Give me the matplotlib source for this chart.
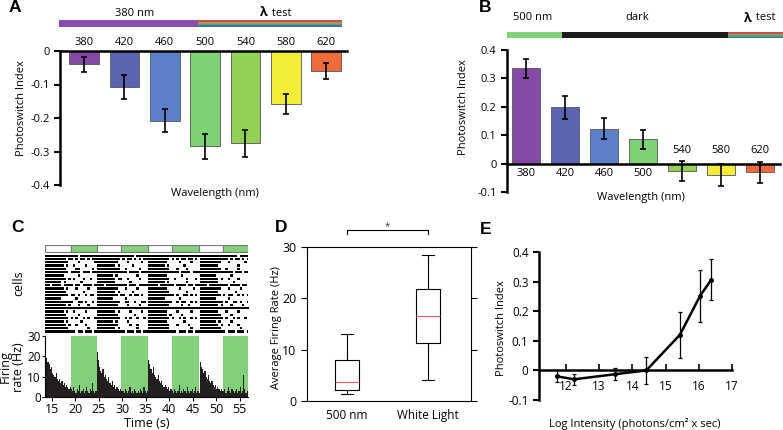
import numpy as np
import matplotlib
matplotlib.use('Agg')
import matplotlib.pyplot as plt
from matplotlib.patches import Rectangle

plt.rcParams['font.family'] = ['Open Sans', 'DejaVu Sans']
plt.rcParams['font.size'] = 8

W, H = 783, 430

# ---- data ----
wavelengths = [380, 420, 460, 500, 540, 580, 620]
bar_colors = ['#8549a6', '#5d63b3', '#5b80c8', '#7fd077', '#93d156', '#f3ed3a', '#ef6b3c']

a_index = [-0.040, -0.107, -0.208, -0.285, -0.275, -0.157, -0.060]
a_err = [0.022, 0.035, 0.035, 0.038, 0.040, 0.030, 0.023]

b_index = [0.335, 0.198, 0.122, 0.085, -0.025, -0.040, -0.030]
b_err = [0.033, 0.040, 0.037, 0.033, 0.035, 0.040, 0.037]

# C: light protocol (s)
green_on = [19.0, 29.8, 40.6, 51.4]
green_off = [24.5, 35.5, 46.3, 56.8]
t_start = 13.5

# raster, 0.5 s per column (dark | green | dark | green ...)
raster_rows = [
    "###########|###.#######|###########|#####.#####|##########|############|##########|######.#####",
    "#########.#|#.#.##.#.##|##########.|#.##.#.#.##|#########.|#.#.##.##.#.|##########|##.#.##.#.##",
    "##########.|...#......#|#########..|..#.....#..|########..|...#....#...|#########.|..#......#..",
    "########.#.|.#....#....|########.#.|....#......|#######.#.|.....#......|########..|......#.....",
    "#########..|..##.....#.|##########.|.#.....#...|#########.|..#...#.....|#########.|.#....#.....",
    "##########.|####.###.##|###########|##.####.###|##########|###.####.###|##########|####.###.###",
    "########...|...#.......|#######.#..|......#....|########..|....#.......|#######...|...#........",
    "#########.#|.#...#..#..|########.##|..#....#...|#########.|.#....#...#.|########.#|..#...#.....",
    "#######.#..|....#......|########...|...#.......|#######.#.|......#.....|########..|....#.......",
    "##.####.###|#.##.####.#|###.#######|##.###.####|####.#####|#.####.##.##|###.######|##.####.##.#",
    "########.#.|..#....#...|#########..|.#....#....|########..|...#.....#..|#########.|..#....#....",
    "#########..|.....#.....|########.#.|....#......|#########.|......#.....|########..|.....#......",
    "##########.|##.#..#.##.|#########.#|#..#.##.#..|##########|#.#..##.#.#.|#########.|#.##..#.#.#.",
    "#######....|..#........|#######....|.#.........|#######...|...#........|#######...|..#.........",
    "###########|#..##.#..#.|##########.|.##..#..##.|##########|..#.##..#.#.|##########|.#..##.#..#.",
    "#########.#|...#...#...|#########..|..#....#...|#########.|....#..#....|########.#|...#....#...",
    "###########|###########|###########|###########|##########|############|##########|############",
    "########.#.|.#....#....|########.#.|...#....#..|########..|..#.....#...|########..|.#....#.....",
    "#########..|...#.......|#########..|.....#.....|########.#|....#.......|#########.|...#........",
    "##########.|#.#..#.#..#|##########.|.#.#..#..#.|#########.|#..#.#..#.#.|##########|.#..#.#..#.#",
    "########.#.|....#......|#######.#..|..#........|########..|.....#......|#######.#.|...#........",
    "#########.#|..#...#....|#########..|...#..#....|#########.|..#....#....|########.#|..#...#.....",
    "##########.|.......#...|########.#.|......#....|#########.|........#...|#########.|.......#....",
    "###########|##.##.###.#|###########|#.###.##.##|##########|##.###.##.##|##########|#.###.###.##",
]

# firing rate, 0.25 s bins from 13.5 s
rate_d1 = [20, 19, 17, 16, 14, 15, 12, 11, 10, 12, 9, 8, 9, 7, 8, 6, 7, 5, 6, 5, 4, 5]
rate_g1 = [4, 3, 5, 3, 2, 4, 3, 6, 2, 3, 4, 2, 3, 5, 3, 2, 4, 3, 7, 3, 2, 3]
rate_d2 = [22, 18, 15, 13, 12, 14, 10, 11, 9, 8, 10, 7, 6, 8, 5, 6, 4, 5, 4, 3, 4, 3]
rate_g2 = [3, 2, 4, 3, 2, 3, 5, 2, 3, 2, 4, 3, 2, 3, 2, 4, 3, 2, 5, 3, 2, 3]
rate_d3 = [18, 16, 14, 12, 15, 11, 10, 9, 11, 8, 7, 8, 6, 5, 6, 5, 4, 5, 3, 4]
rate_g3 = [3, 2, 4, 3, 2, 3, 6, 2, 3, 2, 4, 3, 2, 5, 3, 2, 3, 4, 2, 3, 5, 2, 3, 2]
rate_d4 = [17, 15, 14, 12, 13, 10, 9, 11, 8, 7, 8, 6, 5, 6, 4, 5, 4, 3, 4, 3]
rate_g4 = [3, 4, 2, 3, 5, 3, 2, 4, 3, 2, 3, 4, 2, 3, 5, 2, 3, 11, 4, 2, 3, 2]

# D: box plot stats (Hz)
d_labels = ['500 nm', 'White Light']
d_whislo = [1.3, 4.0]
d_q1 = [2.1, 11.3]
d_med = [3.7, 16.5]
d_q3 = [7.9, 21.8]
d_whishi = [13.0, 28.5]

# E: photoswitch index vs log intensity
e_logI = [11.72, 12.25, 13.47, 14.42, 15.43, 16.04, 16.38]
e_index = [-0.020, -0.030, -0.013, 0.000, 0.120, 0.252, 0.307]
e_err = [0.020, 0.018, 0.020, 0.045, 0.078, 0.088, 0.068]


def px(x0, y0, x1, y1):
    return [x0 / W, 1 - y1 / H, (x1 - x0) / W, (y1 - y0) / H]


fig = plt.figure(figsize=(W / 100, H / 100), dpi=100)

# overlay for decorations in pixel coordinates
ov = fig.add_axes([0, 0, 1, 1], zorder=-1)
ov.set_xlim(0, W)
ov.set_ylim(H, 0)
ov.axis('off')

rainbow = ['#cf4a4c', '#a89a55', '#4faa68', '#3d70b2']


def rainbow_bar(x0, x1, y0, y1):
    h = (y1 - y0) / len(rainbow)
    for k, c in enumerate(rainbow):
        ov.add_patch(Rectangle((x0, y0 + k * h), x1 - x0, h, color=c, lw=0))


def lam_test(x, y):
    ov.text(x, y, 'λ', fontsize=9, fontweight='bold', ha='right', va='center')
    ov.text(x + 1, y, ' test', fontsize=8, ha='left', va='center')


# top bar A
ov.add_patch(Rectangle((59, 20), 139, 7, color='#8a4fae', lw=0))
rainbow_bar(198, 342, 20, 27)
ov.text(135, 13, '380 nm', ha='center', va='center')
lam_test(268, 13)

# top bar B
ov.add_patch(Rectangle((507, 32), 55, 6, color='#80d07a', lw=0))
ov.add_patch(Rectangle((562, 32), 166, 6, color='#1c1c1c', lw=0))
rainbow_bar(728, 783, 32, 38)
ov.text(533, 18, '500 nm', ha='center', va='center')
ov.text(637, 18, 'dark', ha='center', va='center')
lam_test(752, 18)

# panel letters
for lab, x, y in [('A', 15, 8), ('B', 485, 8), ('C', 17, 227), ('D', 281, 227), ('E', 486, 229)]:
    ov.text(x, y, lab, fontsize=12.5, fontweight='bold', family='Liberation Sans',
            ha='center', va='center')

x = np.arange(len(wavelengths))
tick_kw = dict(direction='out', length=4, width=1.5)

# ---- A ----
axA = fig.add_axes(px(60, 51, 347, 185))
axA.bar(x, a_index, width=0.74, color=bar_colors, edgecolor='#555555', lw=0.6, zorder=2)
axA.errorbar(x, a_index, yerr=a_err, fmt='none', ecolor='black', elinewidth=1.2,
             capsize=2, capthick=1.2, zorder=3)
axA.set_xlim(-0.6, 6.52)
axA.set_ylim(-0.4, 0)
for s in ['right', 'bottom']:
    axA.spines[s].set_visible(False)
for s in ['left', 'top']:
    axA.spines[s].set_linewidth(1.8)
axA.xaxis.tick_top()
axA.set_xticks(x, [str(w) for w in wavelengths])
axA.tick_params(axis='x', length=0, pad=2)
axA.set_yticks([0, -0.1, -0.2, -0.3, -0.4], ['0', '-0.1', '-0.2', '-0.3', '-0.4'])
axA.tick_params(axis='y', **tick_kw)
axA.set_xlabel('Wavelength (nm)')
axA.xaxis.set_label_position('bottom')
axA.xaxis.set_label_coords(0.54, -0.02)
axA.set_ylabel('Photoswitch Index')
axA.yaxis.set_label_coords(-0.115, 0.575)

# ---- B ----
axB = fig.add_axes(px(507, 50, 780, 192))
axB.bar(x, b_index, width=0.72, color=bar_colors, edgecolor='#555555', lw=0.6, zorder=2)
axB.errorbar(x, b_index, yerr=b_err, fmt='none', ecolor='black', elinewidth=1.2,
             capsize=2, capthick=1.2, zorder=3)
axB.set_xlim(-0.49, 6.51)
axB.set_ylim(-0.1, 0.4)
axB.spines['top'].set_visible(False)
axB.spines['right'].set_visible(False)
axB.spines['bottom'].set_position(('data', 0))
axB.spines['bottom'].set_linewidth(1.8)
axB.spines['left'].set_linewidth(1.8)
axB.spines['bottom'].set_zorder(4)
axB.set_xticks([])
for i, w in enumerate(wavelengths):
    yy = -0.035 if b_index[i] > 0 else 0.046
    axB.text(i, yy, str(w), ha='center', va='center')
axB.set_yticks([-0.1, 0, 0.1, 0.2, 0.3, 0.4], ['-0.1', '0', '0.1', '0.2', '0.3', '0.4'])
axB.tick_params(axis='y', **tick_kw)
axB.set_xlabel('Wavelength (nm)')
axB.xaxis.set_label_coords(0.49, 0.0)
axB.set_ylabel('Photoswitch Index')
axB.yaxis.set_label_coords(-0.139, 0.6)

# ---- C raster ----
axR = fig.add_axes(px(45, 245, 248, 333))
t_end = 56.8
axR.set_xlim(t_start, t_end)
axR.set_ylim(len(raster_rows), -2.75)
axR.axis('off')
dark_on = [t_start] + green_off[:-1]
for a, b in zip(dark_on, green_on):
    axR.add_patch(Rectangle((a, -2.6), b - a, 2.0, facecolor='white', edgecolor='#777777', lw=0.8))
for a, b in zip(green_on, green_off):
    axR.add_patch(Rectangle((a, -2.6), b - a, 2.0, facecolor='#82cf7c', edgecolor='#777777', lw=0.8))
for r, row in enumerate(raster_rows):
    s = row.replace('|', '')
    runs = []
    i = 0
    while i < len(s):
        if s[i] == '#':
            j = i
            while j < len(s) and s[j] == '#':
                j += 1
            runs.append((t_start + i * 0.5, (j - i) * 0.5))
            i = j
        else:
            i += 1
    axR.broken_barh(runs, (r + 0.15, 0.7), color='black', lw=0)
fig.text(19 / W, 1 - 283 / H, 'cells', rotation=90, ha='center', va='center', fontsize=9)

# ---- C firing rate ----
axF = fig.add_axes(px(45, 336, 248, 397))
rate = rate_d1 + rate_g1 + rate_d2 + rate_g2 + rate_d3 + rate_g3 + rate_d4 + rate_g4
edges = t_start + 0.25 * np.arange(len(rate))
for a, b in zip(green_on, green_off):
    axF.axvspan(a, b, color='#82cf7c', lw=0, zorder=0)
axF.bar(edges, rate, width=0.25, align='edge', color='#231f20', lw=0, zorder=2)
axF.set_xlim(t_start, t_end)
axF.set_ylim(0, 30)
axF.spines['top'].set_visible(False)
axF.spines['right'].set_visible(False)
axF.set_xticks([15, 20, 25, 30, 35, 40, 45, 50, 55])
axF.set_yticks([0, 10, 20, 30])
axF.tick_params(axis='x', labelsize=9, direction='out', length=3, width=0.8, pad=1)
axF.tick_params(axis='y', labelsize=8.5, direction='out', length=2, width=0.8, pad=1)
axF.set_xlabel('Time (s)', fontsize=9, labelpad=1)
fig.text(12 / W, 1 - 367 / H, 'Firing\nrate (Hz)', rotation=90, ha='center', va='center',
         fontsize=9, linespacing=0.95)

# ---- D ----
axD = fig.add_axes(px(307, 247, 471, 401))
stats = []
for k in range(2):
    stats.append(dict(med=d_med[k], q1=d_q1[k], q3=d_q3[k], whislo=d_whislo[k],
                      whishi=d_whishi[k], fliers=[], label=d_labels[k]))
axD.bxp(stats, positions=[1, 2], widths=0.3, showfliers=False,
        boxprops=dict(color='black', lw=0.8),
        whiskerprops=dict(color='black', lw=0.8),
        capprops=dict(color='black', lw=0.8),
        medianprops=dict(color='#e0585a', lw=0.8))
axD.set_xlim(0.506, 2.53)
axD.set_ylim(0, 30)
axD.set_yticks([0, 10, 20, 30])
axD.tick_params(axis='y', direction='out', length=4, width=0.8, right=True, labelsize=9)
axD.tick_params(axis='x', length=0, pad=6, labelsize=8.5)
for s in axD.spines.values():
    s.set_linewidth(0.8)
axD.plot([1, 1, 2, 2], [32.6, 33.4, 33.4, 32.6], color='black', lw=0.8, clip_on=False)
axD.text(1.5, 34.0, '*', ha='center', va='center', fontsize=7, color='#444444')
axD.set_ylabel('Average Firing Rate (Hz)')
axD.yaxis.set_label_coords(-0.152, 0.474)

# ---- E ----
axE = fig.add_axes(px(539, 252, 732, 400))
axE.errorbar(e_logI, e_index, yerr=e_err, color='black', lw=1.8, elinewidth=0.9,
             capsize=1.5, capthick=0.9, marker='o', ms=2.5, clip_on=False, zorder=3)
axE.set_xlim(11.19, 17.0)
axE.set_ylim(-0.1, 0.4)
axE.spines['top'].set_visible(False)
axE.spines['right'].set_visible(False)
axE.spines['bottom'].set_position(('data', 0))
axE.spines['bottom'].set_linewidth(1.8)
axE.spines['left'].set_linewidth(1.8)
axE.set_xticks([12, 13, 14, 15, 16, 17])
axE.tick_params(axis='x', direction='in', length=4, width=1.2, pad=7, labelsize=8.5)
axE.set_yticks([-0.1, 0, 0.1, 0.2, 0.3, 0.4], ['-0.1', '0', '0.1', '0.2', '0.3', '0.4'])
axE.tick_params(axis='y', direction='out', length=4, width=1.5, labelsize=8.5)
axE.set_xlabel('Log Intensity (photons/cm² x sec)')
axE.xaxis.set_label_coords(0.497, -0.125)
axE.set_ylabel('Photoswitch Index')
axE.yaxis.set_label_coords(-0.166, 0.486)

fig.savefig('out.png', dpi=100)
